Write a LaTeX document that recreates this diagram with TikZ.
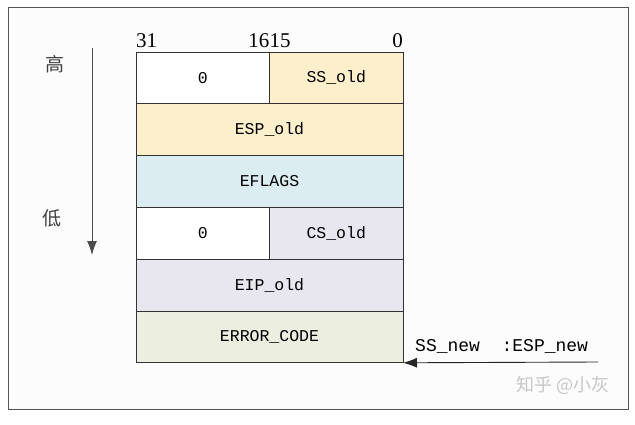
\documentclass[tikz,border=0pt]{standalone}
\usepackage{fontspec}
\usepackage{tikz}
\usetikzlibrary{arrows.meta,positioning}
\setmainfont{Liberation Serif}
\newfontfamily\monofont{Liberation Mono}
\newfontfamily\cjk{Noto Sans CJK SC}
\definecolor{oldorange}{HTML}{FDEFCB}
\definecolor{flagblue}{HTML}{DCEDF2}
\definecolor{csgrey}{HTML}{E8E6EE}
\definecolor{errgreen}{HTML}{ECEFDF}
\definecolor{framegrey}{HTML}{555555}

\begin{document}
\begin{tikzpicture}[x=1pt,y=-1pt,>={Latex[length=14pt,width=10pt]},
    cell/.style={draw=black!80,line width=0.8pt,minimum height=51.8pt,inner sep=0pt,outer sep=0pt,font=\monofont\fontsize{16.5}{18}\selectfont},
    half/.style={cell,minimum width=133.5pt},
    full/.style={cell,minimum width=267pt},
    bits/.style={inner sep=0pt,font=\fontsize{21}{23}\selectfont},
    side/.style={font=\cjk\fontsize{19}{21}\selectfont,text=black!75}]
  \useasboundingbox (0,0) rectangle (635,425);
  \draw[framegrey,line width=1pt,fill=black!1] (8,8) rectangle (628,409);
  % stack frame
  \node[half,fill=white]  (zero1)  at (202.75,77.9)  {0};
  \node[half,fill=oldorange] (ssold) [right=0pt of zero1] {SS\_old};
  \node[full,fill=oldorange,anchor=north west]  (espold) at (zero1.south west)  {ESP\_old};
  \node[full,fill=flagblue,anchor=north west]   (eflags) at (espold.south west) {EFLAGS};
  \node[half,fill=white,anchor=north west]      (zero2)  at (eflags.south west) {0};
  \node[half,fill=csgrey]    (csold)  [right=0pt of zero2] {CS\_old};
  \node[full,fill=csgrey,anchor=north west]     (eipold) at (zero2.south west)  {EIP\_old};
  \node[full,fill=errgreen,anchor=north west]   (errcode) at (eipold.south west) {ERROR\_CODE};
  % bit numbers
  \node[bits,anchor=base west]  (b31) at ([yshift=4pt]zero1.north west) {31};
  \node[bits,anchor=base east]  (b16) at ([yshift=4pt]zero1.north east) {16};
  \node[bits,anchor=base west]  (b15) at ([yshift=4pt]ssold.north west) {15};
  \node[bits,anchor=base east]  (b0)  at ([yshift=4pt]ssold.north east) {0};
  % direction
  \node[side] (high) at (55,64)  {高};
  \node[side] (low)  at (52,218) {低};
  \coordinate (top) at (92,48);
  \coordinate (bottom) at (92,255);
  \draw[->,black!70,line width=1pt] (top) -- (bottom);
  % new stack pointer
  \coordinate (tip) at (598,362);
  \draw[->,black!85,line width=0.9pt] (tip) -- (errcode.south east);
  \node[anchor=base west,inner sep=0pt,font=\monofont\fontsize{18}{20}\selectfont] (ssnew) at (415,351) {SS\_new\ \ :ESP\_new};
  \node[side,text=black!22,font=\cjk\fontsize{18}{20}\selectfont] (mark) at (563,385) {知乎 @小灰};
\end{tikzpicture}
\end{document}
